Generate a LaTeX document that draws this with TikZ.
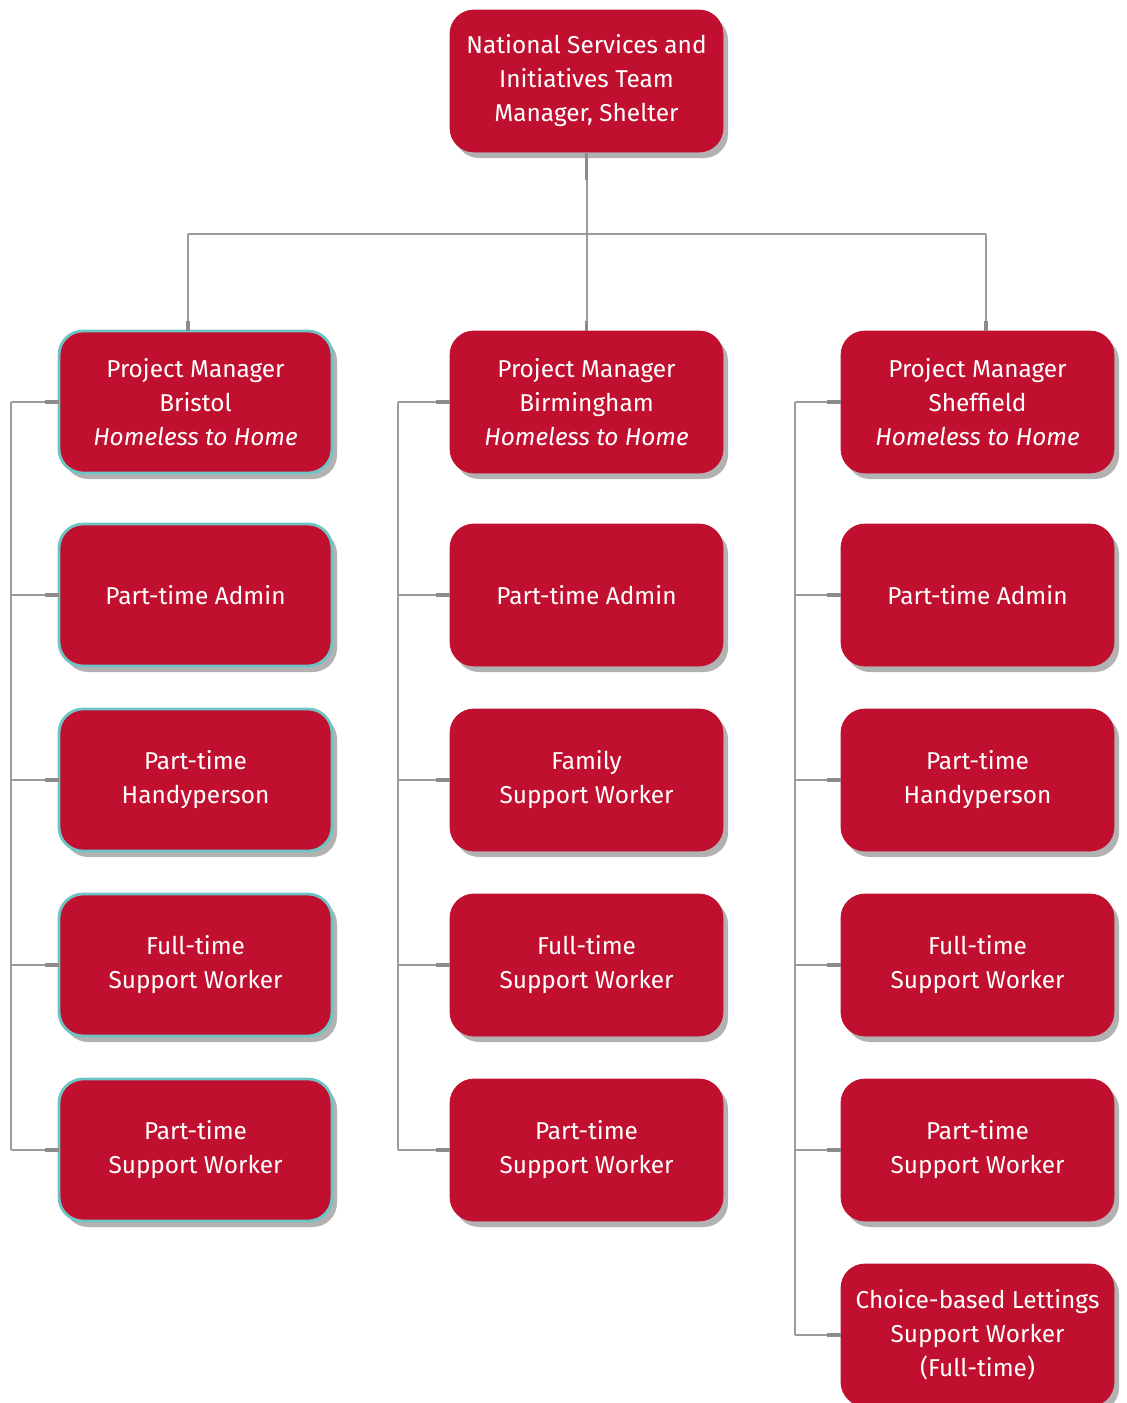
\documentclass[tikz,border=0pt]{standalone}
\usepackage{fontspec}
\setmainfont{Fira Sans}
\usetikzlibrary{positioning, shadows}
\definecolor{BoxRed}{HTML}{C1102F}
\definecolor{EdgeTeal}{HTML}{6CC4C4}
\definecolor{LineGrey}{HTML}{9B9B9B}
\definecolor{StubGrey}{HTML}{8C8C8C}

\begin{document}
\begin{tikzpicture}[
    x=0.5pt, y=-0.5pt,
    node distance=21.5pt and 59pt,
    role/.style={rectangle, fill=BoxRed, draw=BoxRed, outer sep=0pt, rounded corners=12pt, minimum width=136.5pt, minimum height=71pt, align=center, text=white, font=\fontsize{12.2}{17}\selectfont, drop shadow={shadow xshift=2.5pt, shadow yshift=-3pt, fill=black, opacity=0.3}},
    trole/.style={role, draw=EdgeTeal, line width=1.4pt},
    link/.style={LineGrey, line width=1pt},
    stub/.style={StubGrey, line width=1.8pt}
  ]
    \useasboundingbox (0,0) rectangle (1127,1403);

    % manager and project heads
    \node[role] (nsit) at (586.5,81) {National Services and\\Initiatives Team\\Manager, Shelter};
    \node[trole] (pmBri) at (195.5,402) {Project Manager\\Bristol\\\textit{Homeless to Home}};
    \node[role, right=of pmBri] (pmBir) {Project Manager\\Birmingham\\\textit{Homeless to Home}};
    \node[role, right=of pmBir] (pmShe) {Project Manager\\Sheffield\\\textit{Homeless to Home}};

    % Bristol team
    \node[trole, below=25.5pt of pmBri] (adBri) {Part-time Admin};
    \node[trole, below=of adBri] (hpBri) {Part-time\\Handyperson};
    \node[trole, below=of hpBri] (fsBri) {Full-time\\Support Worker};
    \node[trole, below=of fsBri] (psBri) {Part-time\\Support Worker};

    % Birmingham team
    \node[role, below=25.5pt of pmBir] (adBir) {Part-time Admin};
    \node[role, below=of adBir] (fwBir) {Family\\Support Worker};
    \node[role, below=of fwBir] (fsBir) {Full-time\\Support Worker};
    \node[role, below=of fsBir] (psBir) {Part-time\\Support Worker};

    % Sheffield team
    \node[role, below=25.5pt of pmShe] (adShe) {Part-time Admin};
    \node[role, below=of adShe] (hpShe) {Part-time\\Handyperson};
    \node[role, below=of hpShe] (fsShe) {Full-time\\Support Worker};
    \node[role, below=of fsShe] (psShe) {Part-time\\Support Worker};
    \node[role, below=of psShe] (cbShe) {Choice-based Lettings\\Support Worker\\(Full-time)};

    % tree lines
    \coordinate (busL) at (188,234);
    \coordinate (busR) at (986,234);
    \coordinate (railBri) at (11,402);
    \coordinate (railBir) at (398,402);
    \coordinate (railShe) at (795,402);

    \draw[link] (nsit.south) -- (nsit.south |- busL);
    \draw[link] (busL) -- (busR);
    \draw[link] (busL) -- (busL |- pmBri.north);
    \draw[link] (nsit.south |- busL) -- (nsit.south |- pmBir.north);
    \draw[link] (busR) -- (busR |- pmShe.north);

    \draw[link] (railBri) -- (railBri |- psBri.west);
    \draw[link] (railBir) -- (railBir |- psBir.west);
    \draw[link] (railShe) -- (railShe |- cbShe.west);
    \foreach \n in {pmBri, adBri, hpBri, fsBri, psBri}
      \draw[link] (railBri |- \n.west) -- (\n.west);
    \foreach \n in {pmBir, adBir, fwBir, fsBir, psBir}
      \draw[link] (railBir |- \n.west) -- (\n.west);
    \foreach \n in {pmShe, adShe, hpShe, fsShe, psShe, cbShe}
      \draw[link] (railShe |- \n.west) -- (\n.west);

    % heavier ends at the boxes
    \foreach \n in {pmBri, adBri, hpBri, fsBri, psBri, pmBir, adBir, fwBir, fsBir, psBir, pmShe, adShe, hpShe, fsShe, psShe, cbShe}
      \draw[stub] ([xshift=-7pt]\n.west) -- (\n.west);
    \draw[stub] (nsit.south) -- ([yshift=-14pt]nsit.south);
    \draw[stub] ([yshift=5pt]busL |- pmBri.north) -- (busL |- pmBri.north);
    \draw[stub] ([yshift=5pt]nsit.south |- pmBir.north) -- (nsit.south |- pmBir.north);
    \draw[stub] ([yshift=5pt]busR |- pmShe.north) -- (busR |- pmShe.north);
  \end{tikzpicture}
\end{document}
